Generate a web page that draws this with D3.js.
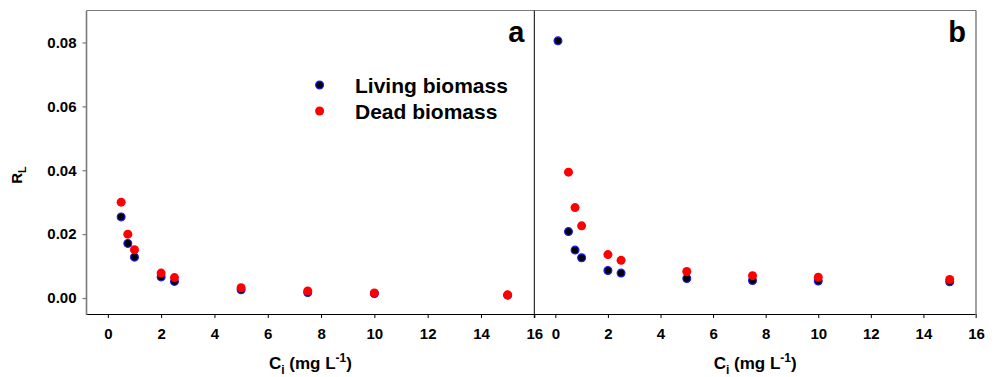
<!DOCTYPE html>
<html><head><meta charset="utf-8">
<script src="https://cdn.jsdelivr.net/npm/d3@7"></script>
<style>
body{margin:0;background:#fff;}
text{font-family:"Liberation Sans",Arial,sans-serif;font-weight:bold;}
</style></head>
<body><svg id="c" width="998" height="377"></svg>
<script>
// ---- data ----
const xTicks = [0,2,4,6,8,10,12,14,16];
const yTicks = [0,0.02,0.04,0.06,0.08];
const seriesNames = ["Living biomass","Dead biomass"];
const panelLabels = ["a","b"];
// panel a
const aLivingX = [0.5,0.75,1,2,2.5,5,7.5,10,15];
const aLivingY = [0.0254,0.0171,0.0128,0.0066,0.0052,0.0026,0.0017,0.0014,0.0009];
const aDeadX   = [0.5,0.75,1,2,2.5,5,7.5,10,15];
const aDeadY   = [0.0300,0.0200,0.0151,0.0078,0.0064,0.0032,0.0022,0.0016,0.0010];
// panel b
const bLivingX = [0.1,0.5,0.75,1,2,2.5,5,7.5,10,15];
const bLivingY = [0.0805,0.0208,0.0150,0.0126,0.0086,0.0078,0.0061,0.0055,0.0053,0.0051];
const bDeadX   = [0.5,0.75,1,2,2.5,5,7.5,10,15];
const bDeadY   = [0.0394,0.0283,0.0226,0.0136,0.0118,0.0083,0.0070,0.0065,0.0058];

const svg = d3.select("#c");
const plotTop = 10.5, plotBottom = 314;
const y = d3.scaleLinear().domain([-0.005,0.09]).range([plotBottom, plotTop]);
const panels = [
  {x0:86.5, x1:534.3, label:panelLabels[0], living:[aLivingX,aLivingY], dead:[aDeadX,aDeadY]},
  {x0:534.3, x1:976, label:panelLabels[1], living:[bLivingX,bLivingY], dead:[bDeadX,bDeadY]}
];
const gray = "#7a7a7a";
const FONT = "'Liberation Sans',Arial,sans-serif";

panels.forEach((p,i)=>{
  const x = d3.scaleLinear().domain([-0.8,16]).range([p.x0,p.x1]);
  const g = svg.append("g");
  const ax = g.append("g").attr("transform",`translate(0,${plotBottom})`)
    .call(d3.axisBottom(x).tickValues(xTicks).tickSize(4).tickPadding(10).tickSizeOuter(0).tickFormat(d3.format("d")));
  ax.select(".domain").attr("stroke","#000").attr("stroke-width",1.2);
  ax.selectAll(".tick line").attr("stroke","#000");
  ax.selectAll(".tick text").attr("font-size",15).attr("fill","#000").style("font-family",FONT).style("font-weight","bold");
  g.append("line").attr("x1",p.x0).attr("x2",p.x1).attr("y1",plotTop).attr("y2",plotTop).attr("stroke",gray).attr("stroke-width",1.2);
  if(i===0){
    g.append("line").attr("x1",p.x0).attr("x2",p.x0).attr("y1",plotTop).attr("y2",plotBottom+1).attr("stroke",gray).attr("stroke-width",1.6);
    const ay = g.append("g").attr("transform",`translate(${p.x0},0)`)
      .call(d3.axisLeft(y).tickValues(yTicks).tickSize(4).tickPadding(6).tickSizeOuter(0).tickFormat(d3.format(".2f")));
    ay.select(".domain").remove();
    ay.selectAll(".tick line").attr("stroke",gray).attr("stroke-width",1.2);
    ay.selectAll(".tick text").attr("font-size",15).attr("fill","#000").style("font-family",FONT).style("font-weight","bold");
  } else {
    g.append("line").attr("x1",p.x0).attr("x2",p.x0).attr("y1",plotTop).attr("y2",plotBottom+4).attr("stroke","#000").attr("stroke-width",1);
    g.append("line").attr("x1",p.x1).attr("x2",p.x1).attr("y1",plotTop).attr("y2",plotBottom+4).attr("stroke",gray).attr("stroke-width",1.4);
  }
  const t = g.append("text").attr("x",(p.x0+p.x1)/2).attr("y",369).attr("text-anchor","middle").attr("font-size",17);
  t.append("tspan").text("C");
  t.append("tspan").attr("font-size",12).attr("dy",5).text("i");
  t.append("tspan").attr("dy",-5).text(" (mg L");
  t.append("tspan").attr("font-size",12).attr("dy",-7).text("-1");
  t.append("tspan").attr("dy",7).text(")");
  g.append("text").attr("x",p.x1-10).attr("y",42).attr("text-anchor","end").attr("font-size",29).text(p.label);
  const liv = p.living[0].map((v,k)=>[v,p.living[1][k]]);
  const dead = p.dead[0].map((v,k)=>[v,p.dead[1][k]]);
  g.selectAll(".liv").data(liv).enter().append("circle")
    .attr("cx",d=>x(d[0])).attr("cy",d=>y(d[1])).attr("r",3.9)
    .attr("fill","#000").attr("stroke","#1a1aff").attr("stroke-width",1.2);
  g.selectAll(".dead").data(dead).enter().append("circle")
    .attr("cx",d=>x(d[0])).attr("cy",d=>y(d[1])).attr("r",4.5)
    .attr("fill","#ff0000");
});

const yt = svg.append("text").attr("transform","translate(22,175) rotate(-90)").attr("text-anchor","middle").attr("font-size",15);
yt.append("tspan").text("R");
yt.append("tspan").attr("font-size",11).attr("dy",4).text("L");

const leg = svg.append("g");
const legY = [85,111];
leg.append("circle").attr("cx",319.6).attr("cy",legY[0]).attr("r",3.9).attr("fill","#000").attr("stroke","#1a1aff").attr("stroke-width",1.2);
leg.append("circle").attr("cx",319.6).attr("cy",legY[1]).attr("r",4.5).attr("fill","#ff0000");
seriesNames.forEach((s,i)=>{
  leg.append("text").attr("x",355).attr("y",legY[i]+7.5).attr("font-size",21).text(s);
});
</script></body></html>
